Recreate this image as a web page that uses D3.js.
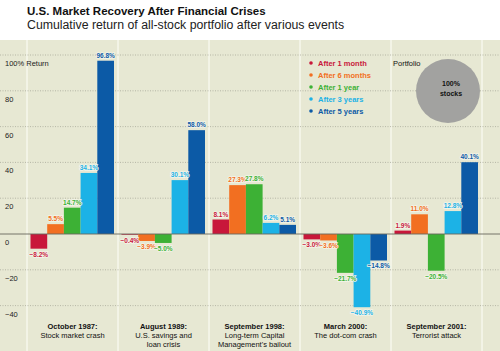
<!DOCTYPE html>
<html>
<head>
<meta charset="utf-8">
<script src="https://cdn.jsdelivr.net/npm/d3@7"></script>
<style>
  body { margin: 0; background: #fff; }
  svg { display: block; font-family: "Liberation Sans", Arial, sans-serif; }
</style>
</head>
<body>
<div id="chart"></div>
<script>
const events = ["Oct 1987", "Aug 1989", "Sep 1998", "Mar 2000", "Sep 2001"];
const eventTitles = ["October 1987:", "August 1989:", "September 1998:", "March 2000:", "September 2001:"];
const eventNotes = [
  ["Stock market crash"],
  ["U.S. savings and", "loan crisis"],
  ["Long-term Capital", "Management's bailout"],
  ["The dot-com crash"],
  ["Terrorist attack"]
];
const periods = ["After 1 month", "After 6 months", "After 1 year", "After 3 years", "After 5 years"];
const after1m = [-8.2, -0.4, 8.1, -3.0, 1.9];
const after6m = [5.5, -3.9, 27.3, -3.6, 11.0];
const after1y = [14.7, -5.0, 27.8, -21.7, -20.5];
const after3y = [34.1, 30.1, 6.2, -40.9, 12.8];
const after5y = [96.8, 58.0, 5.1, -14.8, 40.1];
const yTicks = [-40, -20, 0, 20, 40, 60, 80, 100];

const series = [after1m, after6m, after1y, after3y, after5y];
const colors = ["#c8173a", "#f26f21", "#3db135", "#1cb2e6", "#0c5aa6"];

const W = 500, H = 351;
const svg = d3.select("#chart").append("svg")
  .attr("width", W).attr("height", H);

// panel background
svg.append("rect")
  .attr("x", 0).attr("y", 40).attr("width", W).attr("height", H - 40)
  .attr("fill", "#e7e8d3");

const x0 = d3.scaleBand().domain(events).range([27, 482]);
const x1 = d3.scaleBand().domain(periods).range([3.5, 87]);
const y = d3.scaleLinear().domain([0, 100]).range([234, 55]);

// vertical separators
svg.append("g").selectAll("line")
  .data(events.concat(["end"]))
  .join("line")
  .attr("x1", (d, i) => i < events.length ? x0(d) : x0.range()[1])
  .attr("x2", (d, i) => i < events.length ? x0(d) : x0.range()[1])
  .attr("y1", 40).attr("y2", H)
  .attr("stroke", "#fbfbf3").attr("stroke-width", 1.2);

// horizontal grid
svg.append("g").selectAll("line")
  .data(yTicks.filter(d => d !== 0))
  .join("line")
  .attr("x1", 0).attr("x2", W)
  .attr("y1", d => y(d)).attr("y2", d => y(d))
  .attr("stroke", "#a9aa9a").attr("stroke-width", 0.8)
  .attr("stroke-dasharray", "1,1.5");

// tick labels
svg.append("g").selectAll("text")
  .data(yTicks)
  .join("text")
  .attr("x", 5).attr("y", d => y(d) + 11)
  .attr("font-size", 7.5).attr("fill", "#222")
  .text(d => d === 100 ? "100% Return" : (d < 0 ? "\u2212" + Math.abs(d) : d));

// bars
const groups = svg.append("g").selectAll("g")
  .data(events)
  .join("g")
  .attr("transform", d => `translate(${x0(d)},0)`);

groups.selectAll("rect")
  .data((d, i) => series.map((s, j) => ({ p: periods[j], v: s[i], c: colors[j] })))
  .join("rect")
  .attr("x", d => x1(d.p))
  .attr("width", x1.bandwidth())
  .attr("y", d => y(Math.max(0, d.v)))
  .attr("height", d => Math.abs(y(d.v) - y(0)))
  .attr("fill", d => d.c);

groups.selectAll("text")
  .data((d, i) => series.map((s, j) => ({ p: periods[j], v: s[i], c: colors[j] })))
  .join("text")
  .attr("x", d => x1(d.p) + x1.bandwidth() / 2)
  .attr("y", d => d.v >= 0 ? y(d.v) - 3 : y(d.v) + 8)
  .attr("text-anchor", "middle")
  .attr("font-size", 6.5).attr("font-weight", "bold")
  .attr("fill", d => d.c)
  .attr("stroke", "#f4f5ea").attr("stroke-width", 1.5)
  .attr("paint-order", "stroke")
  .text(d => (d.v < 0 ? "\u2212" + Math.abs(d.v).toFixed(1) : d.v.toFixed(1)) + "%");

// zero line
svg.append("line")
  .attr("x1", 0).attr("x2", W)
  .attr("y1", y(0)).attr("y2", y(0))
  .attr("stroke", "#66665c").attr("stroke-width", 0.9);

// category labels
const cat = svg.append("g").selectAll("text")
  .data(events)
  .join("text")
  .attr("text-anchor", "middle")
  .attr("font-size", 7.5).attr("fill", "#111");
cat.append("tspan")
  .attr("x", d => x0(d) + x0.bandwidth() / 2)
  .attr("y", 329)
  .attr("font-weight", "bold")
  .text((d, i) => eventTitles[i]);
cat.each(function(d, i) {
  d3.select(this).selectAll("tspan.n")
    .data(eventNotes[i])
    .join("tspan")
    .attr("class", "n")
    .attr("x", x0(d) + x0.bandwidth() / 2)
    .attr("y", (t, k) => 338 + k * 9)
    .text(t => t);
});

// legend
const legend = svg.append("g").attr("transform", "translate(311,63)");
periods.forEach((p, i) => {
  const row = legend.append("g").attr("transform", `translate(0,${i * 12})`);
  row.append("circle").attr("r", 1.8).attr("fill", colors[i]);
  row.append("text")
    .attr("x", 7).attr("y", 2.6)
    .attr("font-size", 7.5).attr("font-weight", "bold")
    .attr("fill", colors[i])
    .text(p);
});

// portfolio
svg.append("text")
  .attr("x", 393).attr("y", 66)
  .attr("font-size", 7.5).attr("fill", "#111")
  .text("Portfolio");
svg.append("circle")
  .attr("cx", 448).attr("cy", 91).attr("r", 32)
  .attr("fill", "#a2a2a0");
svg.append("text")
  .attr("x", 451).attr("y", 86)
  .attr("text-anchor", "middle")
  .attr("font-size", 7).attr("font-weight", "bold").attr("fill", "#111")
  .text("100%");
svg.append("text")
  .attr("x", 451).attr("y", 95.5)
  .attr("text-anchor", "middle")
  .attr("font-size", 7).attr("font-weight", "bold").attr("fill", "#111")
  .text("stocks");

// titles
svg.append("text")
  .attr("x", 27).attr("y", 15)
  .attr("font-size", 11.5).attr("font-weight", "bold").attr("fill", "#111")
  .text("U.S. Market Recovery After Financial Crises");
svg.append("text")
  .attr("x", 27).attr("y", 28.5)
  .attr("font-size", 12.3).attr("fill", "#222")
  .text("Cumulative return of all-stock portfolio after various events");
</script>
</body>
</html>
